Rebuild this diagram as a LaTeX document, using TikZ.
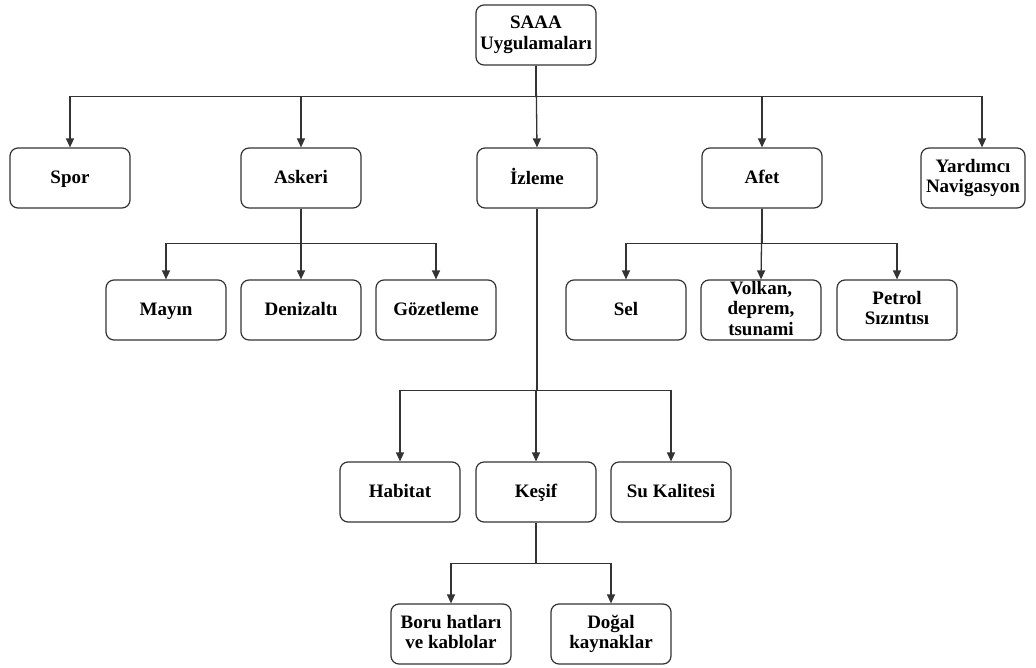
\documentclass[tikz,border=0pt]{standalone}
\usepackage{fontspec}
\setmainfont{Liberation Serif}
\usetikzlibrary{arrows.meta}
\definecolor{linegray}{HTML}{333333}
\newcommand{\lnstrut}{\rule[-4pt]{0pt}{19pt}}
\tikzset{
  box/.style={draw=linegray, line width=1.2pt, rounded corners=8pt,
    minimum width=120pt, minimum height=60pt, inner sep=0pt, align=center,
    font=\fontsize{19}{20.5}\selectfont\bfseries,
    execute at begin node=\lnstrut, execute at end node=\lnstrut},
  link/.style={draw=linegray, line width=1.3pt, -{Triangle[width=8pt,length=9pt]}},
}
\begin{document}
\begin{tikzpicture}[x=1pt,y=-1pt]
    \useasboundingbox (0,0) rectangle (1036,667);

    % root and first level
    \node[box] (root) at (536,35) {SAAA\\Uygulamaları};
    \node[box] (spor) at (70,178) {Spor};
    \node[box] (askeri) at (301,178) {Askeri};
    \node[box] (izleme) at (537,178) {İzleme};
    \node[box] (afet) at (762,178) {Afet};
    \node[box, minimum width=104pt] (yard) at (973,178) {Yardımcı\\Navigasyon};

    % second level
    \node[box] (mayin) at (166,310) {Mayın};
    \node[box] (deniz) at (301,310) {Denizaltı};
    \node[box] (gozet) at (436,310) {Gözetleme};
    \node[box] (sel) at (626,310) {Sel};
    \node[box] (volkan) at (761,310) {Volkan,\\deprem,\\tsunami};
    \node[box] (petrol) at (897,310) {Petrol\\Sızıntısı};

    \node[box] (habitat) at (400,492) {Habitat};
    \node[box] (kesif) at (536,492) {Keşif};
    \node[box] (su) at (671,492) {Su Kalitesi};

    \node[box] (boru) at (451,634) {Boru hatları\\ve kablolar};
    \node[box] (dogal) at (611,634) {Doğal\\kaynaklar};

    % connectors
    \draw[link] (root.south) -- ++(0,31) -| (spor.north);
    \draw[link] (root.south) -- ++(0,31) -| (askeri.north);
    \draw[link] (root.south) -- (izleme.north);
    \draw[link] (root.south) -- ++(0,31) -| (afet.north);
    \draw[link] (root.south) -- ++(0,31) -| ([xshift=9pt]yard.north);

    \draw[link] (askeri.south) -- ++(0,35) -| (mayin.north);
    \draw[link] (askeri.south) -- (deniz.north);
    \draw[link] (askeri.south) -- ++(0,35) -| (gozet.north);

    \draw[link] (afet.south) -- ++(0,35) -| (sel.north);
    \draw[link] (afet.south) -- (volkan.north);
    \draw[link] (afet.south) -- ++(0,35) -| (petrol.north);

    \draw[link] (izleme.south) -- ++(0,182) -| (habitat.north);
    \draw[link] (izleme.south) -- ++(0,182) -| (kesif.north);
    \draw[link] (izleme.south) -- ++(0,182) -| (su.north);

    \draw[link] (kesif.south) -- ++(0,41) -| (boru.north);
    \draw[link] (kesif.south) -- ++(0,41) -| (dogal.north);
\end{tikzpicture}
\end{document}
